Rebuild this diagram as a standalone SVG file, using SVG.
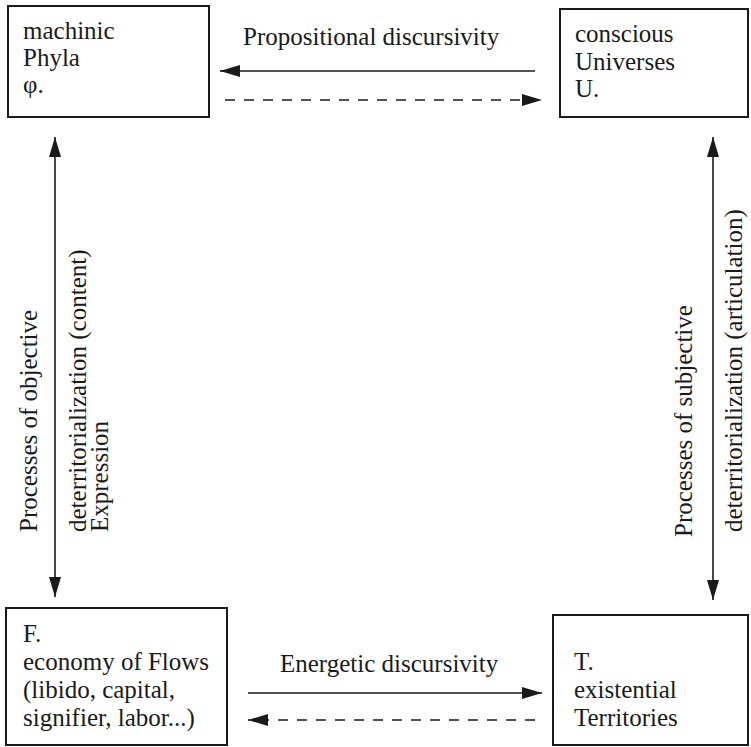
<svg xmlns="http://www.w3.org/2000/svg" width="751" height="747" viewBox="0 0 751 747">
<style>
text{font-family:"Liberation Serif","Times New Roman",serif;font-size:25px;fill:#1a1a1a}
.box{fill:#fff;stroke:#1a1a1a;stroke-width:2}
.ln{stroke:#1a1a1a;stroke-width:1.6;fill:none}
.dash{stroke-dasharray:10 9}
</style>
<defs>
<marker id="ah" markerUnits="userSpaceOnUse" markerWidth="20" markerHeight="12" refX="20" refY="6" orient="auto-start-reverse"><path d="M0,0L20,6L0,12z" fill="#1a1a1a"/></marker>
</defs>
<rect width="751" height="747" fill="#fff"/>
<g id="phyla">
<rect class="box" x="8" y="6" width="201" height="111"/>
<text x="23" y="39">machinic</text>
<text x="23" y="66">Phyla</text>
<text x="23" y="93">φ.</text>
</g>
<g id="universes">
<rect class="box" x="560" y="9" width="188" height="108"/>
<text x="575" y="42">conscious</text>
<text x="575" y="70">Universes</text>
<text x="575" y="97">U.</text>
</g>
<g id="flows">
<rect class="box" x="6" y="608" width="221" height="137"/>
<text x="23" y="642">F.</text>
<text x="23" y="670">economy of Flows</text>
<text x="23" y="698">(libido, capital,</text>
<text x="23" y="726">signifier, labor...)</text>
</g>
<g id="territories">
<rect class="box" x="553" y="615" width="195" height="130"/>
<text x="574" y="670">T.</text>
<text x="574" y="698">existential</text>
<text x="574" y="726">Territories</text>
</g>
<g id="connectors">
<line class="ln" x1="535" y1="71" x2="220" y2="71" marker-end="url(#ah)"/>
<line class="ln dash" x1="225" y1="100" x2="542" y2="100" marker-end="url(#ah)"/>
<line class="ln" x1="248" y1="693" x2="542" y2="693" marker-end="url(#ah)"/>
<line class="ln dash" x1="535" y1="720" x2="248" y2="720" marker-end="url(#ah)"/>
<line class="ln" x1="55" y1="597" x2="55" y2="137" marker-start="url(#ah)" marker-end="url(#ah)"/>
<line class="ln" x1="713" y1="600" x2="713" y2="137" marker-start="url(#ah)" marker-end="url(#ah)"/>
</g>
<g id="labels">
<text x="243" y="45">Propositional discursivity</text>
<text x="280" y="672">Energetic discursivity</text>
<text transform="translate(37,532) rotate(-90)">Processes of objective</text>
<text transform="translate(86,532) rotate(-90)">deterritorialization (content)</text>
<text transform="translate(108,532) rotate(-90)">Expression</text>
<text transform="translate(692,537) rotate(-90)">Processes of subjective</text>
<text transform="translate(742,532) rotate(-90)">deterritorialization (articulation)</text>
</g>
</svg>
